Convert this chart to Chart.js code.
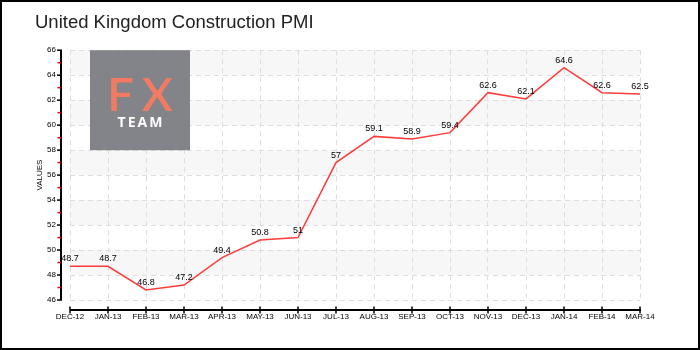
<!DOCTYPE html>
<html>
<head>
<meta charset="utf-8">
<title>United Kingdom Construction PMI</title>
<script src="https://cdn.jsdelivr.net/npm/chart.js@4.4.1/dist/chart.umd.min.js"></script>
<style>
  html, body { margin: 0; padding: 0; background: #fff; }
  #wrap { width: 700px; height: 350px; }
</style>
</head>
<body>
<div id="wrap"><canvas id="pmiChart" width="700" height="350"></canvas></div>
<script>
// monthly construction PMI readings
const months = ["DEC-12", "JAN-13", "FEB-13", "MAR-13", "APR-13", "MAY-13", "JUN-13", "JUL-13",
  "AUG-13", "SEP-13", "OCT-13", "NOV-13", "DEC-13", "JAN-14", "FEB-14", "MAR-14"];
const pmiValues = [48.7, 48.7, 46.8, 47.2, 49.4, 50.8, 51, 57, 59.1, 58.9, 59.4, 62.6, 62.1, 64.6, 62.6, 62.5];
const yMin = 46;
const yMax = 66;
const yStep = 2;

const tickFont = { family: "'Liberation Sans', Arial, sans-serif", size: 8 };
const labelFont = "9px 'Liberation Sans', Arial, sans-serif";

// white page + alternating grey bands behind the grid
const bandsPlugin = {
  id: "bands",
  beforeDraw(chart) {
    const { ctx, chartArea: { left, right }, scales: { y } } = chart;
    ctx.save();
    ctx.fillStyle = "#fff";
    ctx.fillRect(0, 0, chart.width, chart.height);
    ctx.fillStyle = "#f7f7f7";
    for (let v = yMax; v > yMin; v -= yStep * 2) {
      const top = y.getPixelForValue(v);
      const bottom = y.getPixelForValue(v - yStep);
      ctx.fillRect(left, top, right - left, bottom - top);
    }
    ctx.restore();
  },
};

// FX TEAM badge in the top-left corner of the plot
const badgePlugin = {
  id: "badge",
  beforeDatasetsDraw(chart) {
    const { ctx, chartArea: { left, top } } = chart;
    const bx = left + 20, by = top;
    ctx.save();
    ctx.globalAlpha = 0.94;
    ctx.fillStyle = "#7b7b83";
    ctx.fillRect(bx, by, 100, 100);
    ctx.globalAlpha = 1;
    ctx.textAlign = "center";
    ctx.textBaseline = "alphabetic";
    ctx.fillStyle = "#f27a63";
    ctx.font = "600 47px Lato, 'Open Sans', sans-serif";
    ctx.letterSpacing = "8px";
    ctx.fillText("FX", bx + 54, by + 61);
    ctx.fillStyle = "#fff";
    ctx.font = "bold 14px 'Open Sans', Lato, sans-serif";
    ctx.letterSpacing = "2px";
    ctx.fillText("TEAM", bx + 51, by + 77);
    ctx.restore();
  },
};

// value labels above every point
const valueLabels = {
  id: "valueLabels",
  afterDatasetsDraw(chart) {
    const { ctx } = chart;
    const meta = chart.getDatasetMeta(0);
    ctx.save();
    ctx.font = labelFont;
    ctx.fillStyle = "#000";
    ctx.textAlign = "center";
    ctx.textBaseline = "bottom";
    meta.data.forEach((pt, i) => {
      ctx.fillText(String(pmiValues[i]), pt.x, pt.y - 3);
    });
    ctx.restore();
  },
};

// detached axis lines with tick marks, plus the outer frame
const axesPlugin = {
  id: "axes",
  afterDraw(chart) {
    const { ctx, chartArea: { left, right, top, bottom }, scales: { x, y } } = chart;
    const axisX = left - 9;
    const axisY = bottom + 10;
    ctx.save();
    ctx.strokeStyle = "#000";
    ctx.lineWidth = 2;
    ctx.beginPath();
    ctx.moveTo(axisX, top);
    ctx.lineTo(axisX, bottom);
    ctx.stroke();

    ctx.lineWidth = 1.5;
    y.ticks.forEach((t) => {
      const py = y.getPixelForValue(t.value);
      ctx.beginPath();
      ctx.moveTo(axisX - 4, py);
      ctx.lineTo(axisX + 1, py);
      ctx.stroke();
    });
    ctx.strokeStyle = "#e00";
    for (let v = yMin + yStep / 2; v < yMax; v += yStep) {
      const py = y.getPixelForValue(v);
      ctx.beginPath();
      ctx.moveTo(axisX - 3.5, py);
      ctx.lineTo(axisX, py);
      ctx.stroke();
    }

    ctx.strokeStyle = "#000";
    ctx.lineWidth = 2;
    ctx.beginPath();
    ctx.moveTo(left, axisY);
    ctx.lineTo(right + 1, axisY);
    ctx.stroke();
    ctx.lineWidth = 1.5;
    months.forEach((m, i) => {
      const px = x.getPixelForValue(i);
      ctx.beginPath();
      ctx.moveTo(px, axisY - 3.5);
      ctx.lineTo(px, axisY + 3.5);
      ctx.stroke();
    });

    ctx.lineWidth = 2;
    ctx.strokeRect(1, 1, chart.width - 2, chart.height - 2);
    ctx.restore();
  },
};

const gridOpts = { color: "#dedede", lineWidth: 1, drawTicks: false };
const borderOpts = { display: false, dash: [5, 4] };

new Chart(document.getElementById("pmiChart"), {
  type: "line",
  data: {
    labels: months,
    datasets: [{
      label: "Construction PMI",
      data: pmiValues,
      borderColor: "#ff3c3c",
      borderWidth: 1.5,
      pointRadius: 0,
      tension: 0,
      fill: false,
    }],
  },
  options: {
    responsive: false,
    animation: false,
    layout: { padding: { left: 35, right: 60, top: 0, bottom: 0 } },
    plugins: {
      legend: { display: false },
      tooltip: { enabled: false },
      title: {
        display: true,
        text: "United Kingdom Construction PMI",
        align: "start",
        color: "#222",
        font: { family: "'Liberation Sans', Arial, sans-serif", size: 18.5, weight: "normal" },
        padding: { top: 12, bottom: 16 },
      },
    },
    scales: {
      x: {
        type: "category",
        offset: false,
        grid: gridOpts,
        border: borderOpts,
        ticks: { font: tickFont, color: "#000", padding: 12, maxRotation: 0, autoSkip: false },
        afterFit(scale) { scale.height = 50; },
      },
      y: {
        min: yMin,
        max: yMax,
        grid: gridOpts,
        border: borderOpts,
        ticks: { stepSize: yStep, font: tickFont, color: "#000", padding: 14 },
        title: { display: true, text: "VALUES", font: tickFont, color: "#000", padding: 0 },
        afterFit(scale) { scale.width = 35; },
      },
    },
  },
  plugins: [bandsPlugin, badgePlugin, valueLabels, axesPlugin],
});
</script>
</body>
</html>
